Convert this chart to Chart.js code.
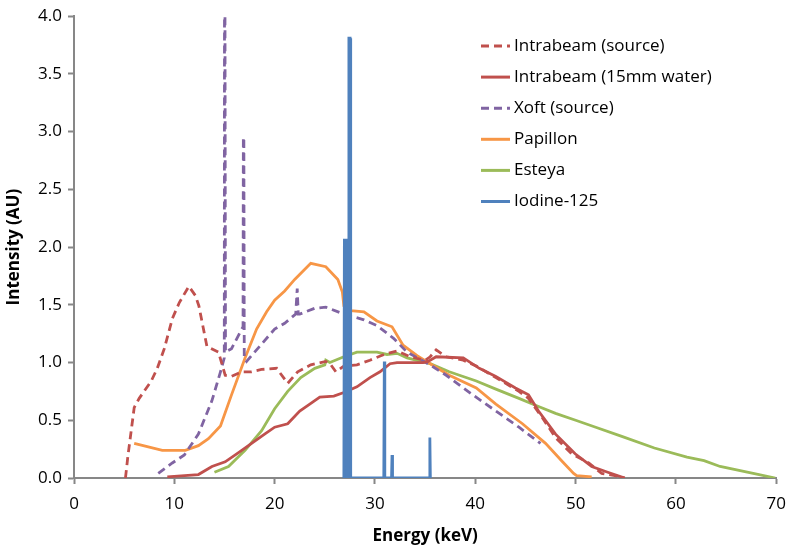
<!DOCTYPE html>
<html>
<head>
<meta charset="utf-8">
<script src="https://cdn.jsdelivr.net/npm/chart.js@4.4.0/dist/chart.umd.min.js"></script>
<style>
    html, body { margin: 0; padding: 0; background: #ffffff; }
</style>
</head>
<body>
<canvas id="spectraChart" width="796" height="550"></canvas>
<script>
// Values (energy in keV, intensity in AU)
const seriesNames = ["Intrabeam (source)", "Intrabeam (15mm water)", "Xoft (source)", "Papillon", "Esteya", "Iodine-125"];

const intrabeamSrcE = [5.13, 5.36, 6.0, 6.5, 7.7, 8.3, 9.0, 9.8, 10.5, 11.45, 12.1, 12.45, 13.25, 14.4, 15.07, 15.7, 16.7, 17.7, 18.7, 20.2, 21.3, 22.3, 23.6, 25.1, 25.6, 26.1, 26.9, 28.2, 29.5, 30.9, 32.2, 33.5, 35.0, 35.5, 36.1, 37.1, 38.8, 40.1, 42.05, 44.35, 45.3, 46.7, 48.0, 49.6, 51.3, 52.6, 53.9, 54.9];
const intrabeamSrcI = [0, 0.18, 0.61, 0.69, 0.84, 0.95, 1.12, 1.38, 1.52, 1.66, 1.58, 1.49, 1.14, 1.09, 0.89, 0.88, 0.92, 0.92, 0.94, 0.95, 0.82, 0.92, 0.98, 1.01, 0.98, 0.92, 0.97, 0.98, 1.02, 1.07, 1.10, 1.05, 1.02, 1.05, 1.11, 1.05, 1.02, 0.97, 0.87, 0.75, 0.69, 0.52, 0.35, 0.21, 0.13, 0.04, 0.02, 0];

const intrabeamWaterE = [9.3, 12.4, 13.75, 15.07, 16.4, 17.7, 19.0, 20.0, 21.3, 22.5, 23.5, 24.5, 25.9, 26.9, 28.2, 29.5, 30.5, 31.5, 32.2, 34.8, 35.3, 36.1, 38.8, 40.4, 42.05, 44.0, 45.3, 46.3, 48.0, 49.95, 51.6, 53.2, 54.9];
const intrabeamWaterI = [0.01, 0.03, 0.10, 0.14, 0.22, 0.30, 0.38, 0.44, 0.47, 0.58, 0.64, 0.70, 0.71, 0.74, 0.79, 0.87, 0.92, 0.99, 1.0, 1.0, 1.01, 1.05, 1.04, 0.95, 0.88, 0.78, 0.72, 0.58, 0.38, 0.21, 0.10, 0.05, 0];

const xoftE = [8.4, 9.8, 11.0, 12.4, 13.75, 14.6, 14.98, 15.0, 15.05, 15.1, 15.7, 16.85, 16.88, 16.93, 16.97, 17.2, 18.0, 20.0, 21.0, 22.1, 22.25, 22.35, 22.5, 24.0, 25.1, 26.9, 28.9, 30.2, 31.85, 33.2, 35.5, 37.1, 39.75, 42.05, 44.35, 46.5];
const xoftI = [0.04, 0.13, 0.20, 0.38, 0.67, 0.92, 1.04, 4.0, 4.0, 1.09, 1.12, 1.31, 2.95, 2.95, 1.04, 1.01, 1.09, 1.29, 1.34, 1.42, 1.64, 1.42, 1.42, 1.47, 1.48, 1.42, 1.37, 1.32, 1.21, 1.09, 0.98, 0.89, 0.72, 0.58, 0.44, 0.30];

const papillonE = [6.0, 8.8, 11.1, 12.4, 13.4, 14.6, 15.7, 17.05, 18.2, 19.2, 20.0, 21.0, 22.0, 23.6, 25.1, 26.3, 26.75, 26.9, 27.6, 28.9, 30.2, 31.7, 32.8, 34.2, 35.5, 37.4, 40.1, 42.05, 44.7, 47.0, 48.6, 49.8, 50.1, 51.6];
const papillonI = [0.30, 0.24, 0.24, 0.28, 0.34, 0.45, 0.72, 1.04, 1.29, 1.44, 1.54, 1.62, 1.72, 1.86, 1.83, 1.72, 1.61, 1.49, 1.45, 1.44, 1.36, 1.31, 1.15, 1.06, 0.99, 0.89, 0.78, 0.64, 0.47, 0.30, 0.15, 0.04, 0.02, 0.01];

const esteyaE = [14.0, 15.4, 17.05, 18.7, 20.0, 21.3, 22.6, 24.0, 25.0, 25.1, 25.5, 26.9, 28.2, 30.2, 31.2, 32.2, 33.2, 35.5, 37.4, 40.1, 42.05, 44.35, 46.3, 48.0, 50.0, 52.0, 54.6, 57.85, 61.1, 62.8, 64.4, 67.7, 69.9];
const esteyaI = [0.05, 0.10, 0.24, 0.41, 0.60, 0.75, 0.87, 0.95, 0.98, 1.02, 1.0, 1.05, 1.09, 1.09, 1.07, 1.08, 1.04, 0.99, 0.92, 0.84, 0.77, 0.69, 0.62, 0.56, 0.50, 0.44, 0.36, 0.26, 0.18, 0.15, 0.10, 0.04, 0];

const iodineE = [26.9, 26.95, 27.33, 27.4, 27.52, 27.58, 30.88, 30.93, 30.98, 31.65, 31.7, 31.75, 35.42, 35.47, 35.52];
const iodineI = [0, 2.06, 2.06, 3.81, 3.81, 0, 0, 1.01, 0, 0, 0.20, 0, 0, 0.35, 0];

const colors = ["#C0504D", "#C0504D", "#8064A2", "#F79646", "#9BBB59", "#4F81BD"];
const dashed = [true, false, true, false, false, false];

const axisGray = "#878787";
const fontFamily = "'Open Sans', 'Liberation Sans', sans-serif";

function toPoints(xs, ys) {
    return xs.map((x, i) => ({ x: x, y: ys[i] }));
}

const seriesData = [
    toPoints(intrabeamSrcE, intrabeamSrcI),
    toPoints(intrabeamWaterE, intrabeamWaterI),
    toPoints(xoftE, xoftI),
    toPoints(papillonE, papillonI),
    toPoints(esteyaE, esteyaI),
    toPoints(iodineE, iodineI),
];

// draws the legend inside the plot, top right, like the original
const insideLegend = {
    id: "insideLegend",
    afterDatasetsDraw(chart) {
        const ctx = chart.ctx;
        ctx.save();
        ctx.font = "17px " + fontFamily;
        ctx.textBaseline = "middle";
        ctx.textAlign = "left";
        seriesNames.forEach((name, i) => {
            const y = 46 + i * 31.1;
            ctx.beginPath();
            ctx.lineWidth = 3;
            ctx.strokeStyle = colors[i];
            ctx.setLineDash(dashed[i] ? [8, 5] : []);
            ctx.moveTo(481, y);
            ctx.lineTo(510, y);
            ctx.stroke();
            ctx.setLineDash([]);
            ctx.fillStyle = "#000000";
            ctx.fillText(name, 514, y);
        });
        ctx.restore();
    },
};

const ctx = document.getElementById("spectraChart").getContext("2d");

new Chart(ctx, {
    type: "line",
    data: {
        datasets: seriesNames.map((name, i) => ({
            label: name,
            data: seriesData[i],
            borderColor: colors[i],
            backgroundColor: colors[i],
            borderWidth: 2.8,
            borderDash: dashed[i] ? [8, 5] : [],
            pointRadius: 0,
            tension: 0,
            fill: i === 5 ? "origin" : false,
            order: i === 5 ? 0 : i + 1,
        })),
    },
    options: {
        responsive: false,
        animation: false,
        layout: { padding: { left: 0, right: 13, top: 10, bottom: 0 } },
        plugins: {
            legend: { display: false },
            tooltip: { enabled: false },
        },
        scales: {
            x: {
                type: "linear",
                min: 0,
                max: 70,
                ticks: {
                    stepSize: 10,
                    color: "#000000",
                    padding: 10,
                    font: { family: fontFamily, size: 17 },
                },
                grid: { drawOnChartArea: false, drawTicks: true, tickLength: 6, tickColor: axisGray, tickWidth: 2 },
                border: { color: axisGray, width: 2 },
                title: {
                    display: true,
                    text: "Energy (keV)",
                    color: "#000000",
                    font: { family: fontFamily, size: 17, weight: "bold" },
                    padding: { top: 0, bottom: 4 },
                },
                afterFit(scale) { scale.height = 72; },
            },
            y: {
                min: 0,
                max: 4,
                ticks: {
                    stepSize: 0.5,
                    color: "#000000",
                    padding: 6,
                    font: { family: fontFamily, size: 17 },
                    callback: (v) => v.toFixed(1),
                },
                grid: { drawOnChartArea: false, drawTicks: true, tickLength: 6, tickColor: axisGray, tickWidth: 2 },
                border: { color: axisGray, width: 2 },
                title: {
                    display: true,
                    text: "Intensity (AU)",
                    color: "#000000",
                    font: { family: fontFamily, size: 17, weight: "bold" },
                    padding: { top: 4, bottom: 0 },
                },
                afterFit(scale) { scale.width = 74; },
            },
        },
    },
    plugins: [insideLegend],
});
</script>
</body>
</html>
